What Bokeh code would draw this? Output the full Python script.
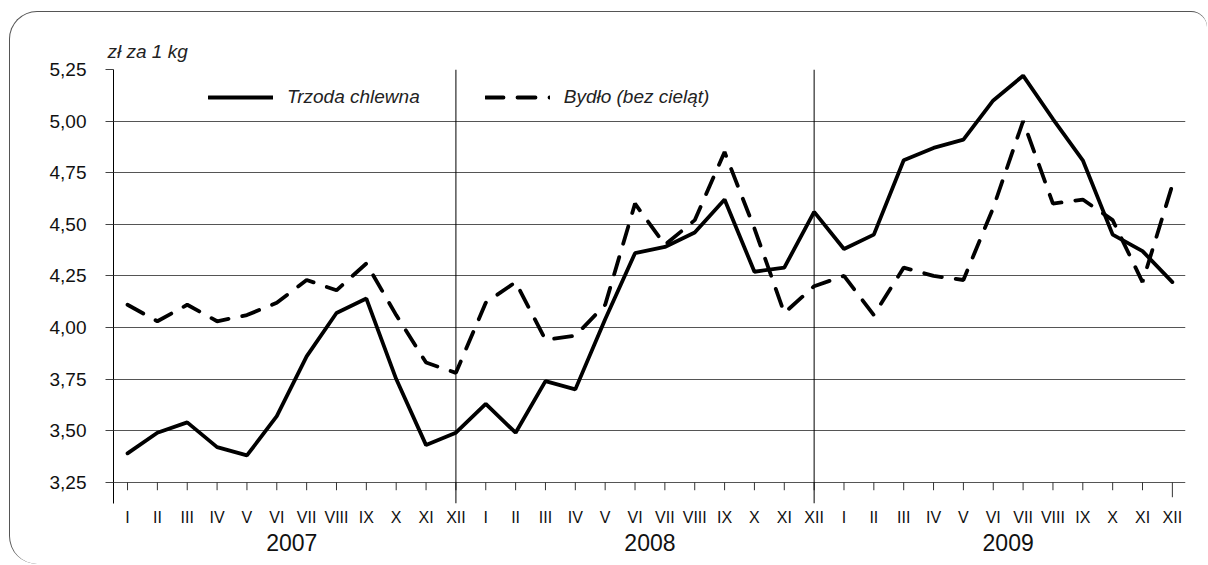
from bokeh.plotting import figure
from bokeh.models import (Range1d, FixedTicker, CustomJSTickFormatter, LinearAxis,
                          Span, Legend, LegendItem)
from bokeh.embed import file_html
from bokeh.resources import INLINE
import math

# ---- data ----
months = ["I", "II", "III", "IV", "V", "VI", "VII", "VIII", "IX", "X", "XI", "XII"]
years = ["2007", "2008", "2009"]
month_labels = months * 3
x_idx = list(range(len(month_labels)))

trzoda = [3.39, 3.49, 3.54, 3.42, 3.38, 3.57, 3.86, 4.07, 4.14, 3.75, 3.43, 3.49,
          3.63, 3.49, 3.74, 3.70, 4.04, 4.36, 4.39, 4.46, 4.62, 4.27, 4.29, 4.56,
          4.38, 4.45, 4.81, 4.87, 4.91, 5.10, 5.22, 5.01, 4.81, 4.45, 4.37, 4.22]
bydlo = [4.11, 4.03, 4.11, 4.03, 4.06, 4.12, 4.23, 4.18, 4.31, 4.06, 3.83, 3.78,
         4.12, 4.22, 3.94, 3.96, 4.11, 4.60, 4.40, 4.52, 4.85, 4.48, 4.07, 4.20,
         4.25, 4.06, 4.29, 4.25, 4.23, 4.58, 5.00, 4.60, 4.62, 4.52, 4.22, 4.69]
yticks = [3.25, 3.50, 3.75, 4.00, 4.25, 4.50, 4.75, 5.00, 5.25]
series_names = ["Trzoda chlewna", "Bydło (bez cieląt)"]
unit_label = "zł za 1 kg"

FONT = "Liberation Sans"

p = figure(width=1198, height=553,
           x_range=Range1d(-0.47, 35.44), y_range=Range1d(3.147, yticks[-1]),
           output_backend="svg", toolbar_location=None,
           min_border_left=103, min_border_right=23, min_border_top=57, min_border_bottom=62,
           background_fill_color=None, border_fill_color=None)
p.outline_line_color = None
p.styles = {"margin-left": "9px", "margin-top": "11px",
            "border-left": "1px solid #555", "border-top": "1px solid #555",
            "border-top-left-radius": "28px", "border-bottom-left-radius": "28px",
            "border-top-right-radius": "16px"}

# title (unit)
p.title.text = unit_label
p.title.text_font = FONT
p.title.text_font_style = "italic"
p.title.text_font_size = "19px"
p.title.text_color = "#222"
p.title.align = "left"
p.title.offset = -6
p.title.standoff = 16

# y axis
ya = p.yaxis[0]
ya.ticker = FixedTicker(ticks=yticks)
ya.formatter = CustomJSTickFormatter(code="return tick.toFixed(2).replace('.', ',');")
ya.major_tick_out = 8
ya.major_tick_in = 0
ya.minor_tick_line_color = None
ya.major_tick_line_color = "#444"
ya.axis_line_color = "black"
ya.major_label_standoff = 19
ya.major_label_text_font = FONT
ya.major_label_text_font_size = "19px"
ya.major_label_text_color = "#111"

p.ygrid.ticker = FixedTicker(ticks=yticks)
p.ygrid.grid_line_color = "#555"
p.ygrid.grid_line_width = 1
p.xgrid.grid_line_color = None

# month axis
xa = p.xaxis[0]
xa.ticker = FixedTicker(ticks=x_idx)
xa.formatter = CustomJSTickFormatter(args=dict(labels=month_labels),
                                     code="return labels[Math.round(tick)] || '';")
xa.axis_line_color = None
xa.major_tick_line_color = None
xa.minor_tick_line_color = None
xa.major_tick_out = 0
xa.major_tick_in = 0
xa.major_label_standoff = 5
xa.major_label_text_font = FONT
xa.major_label_text_font_size = "16px"
xa.major_label_text_color = "#111"

# year axis
year_pos = [5.5 + 12 * k for k in range(len(years))]
ya2 = LinearAxis(ticker=FixedTicker(ticks=year_pos),
                 formatter=CustomJSTickFormatter(args=dict(labels=years),
                                                 code="return labels[Math.round((tick - 5.5) / 12)] || '';"),
                 axis_line_color=None, major_tick_line_color=None, minor_tick_line_color=None,
                 major_tick_out=0, major_tick_in=0, major_label_standoff=5,
                 major_label_text_font=FONT, major_label_text_font_size="23px",
                 major_label_text_color="#111")
p.add_layout(ya2, "below")

# month tick marks on the 3.25 baseline
p.ray(x=x_idx[:-1], y=yticks[0], length=8, length_units="screen", angle=-math.pi / 2,
      line_color="#333", line_width=1)
p.ray(x=[x_idx[-1]], y=yticks[0], length=15, length_units="screen", angle=-math.pi / 2,
      line_color="#333", line_width=1)

# year separators (at each December, except the last)
for k in range(1, len(years)):
    p.add_layout(Span(location=12 * k - 1, dimension="height", line_color="black", line_width=1))

r1 = p.line(x_idx, trzoda, line_color="black", line_width=3.8, line_cap="round")
r2 = p.line(x_idx, bydlo, line_color="black", line_width=3.8, line_dash="18 14", line_cap="round")

legend = Legend(items=[LegendItem(label=series_names[0], renderers=[r1]),
                       LegendItem(label=series_names[1], renderers=[r2])],
                orientation="horizontal", location=(95, 394),
                glyph_width=65, glyph_height=24, label_height=24, label_standoff=14,
                spacing=65, padding=0, margin=0, border_line_color=None,
                background_fill_alpha=0,
                label_text_font=FONT, label_text_font_style="italic",
                label_text_font_size="19px", label_text_color="#222")
p.add_layout(legend)

open("out.html", "w").write(file_html(p, INLINE))
